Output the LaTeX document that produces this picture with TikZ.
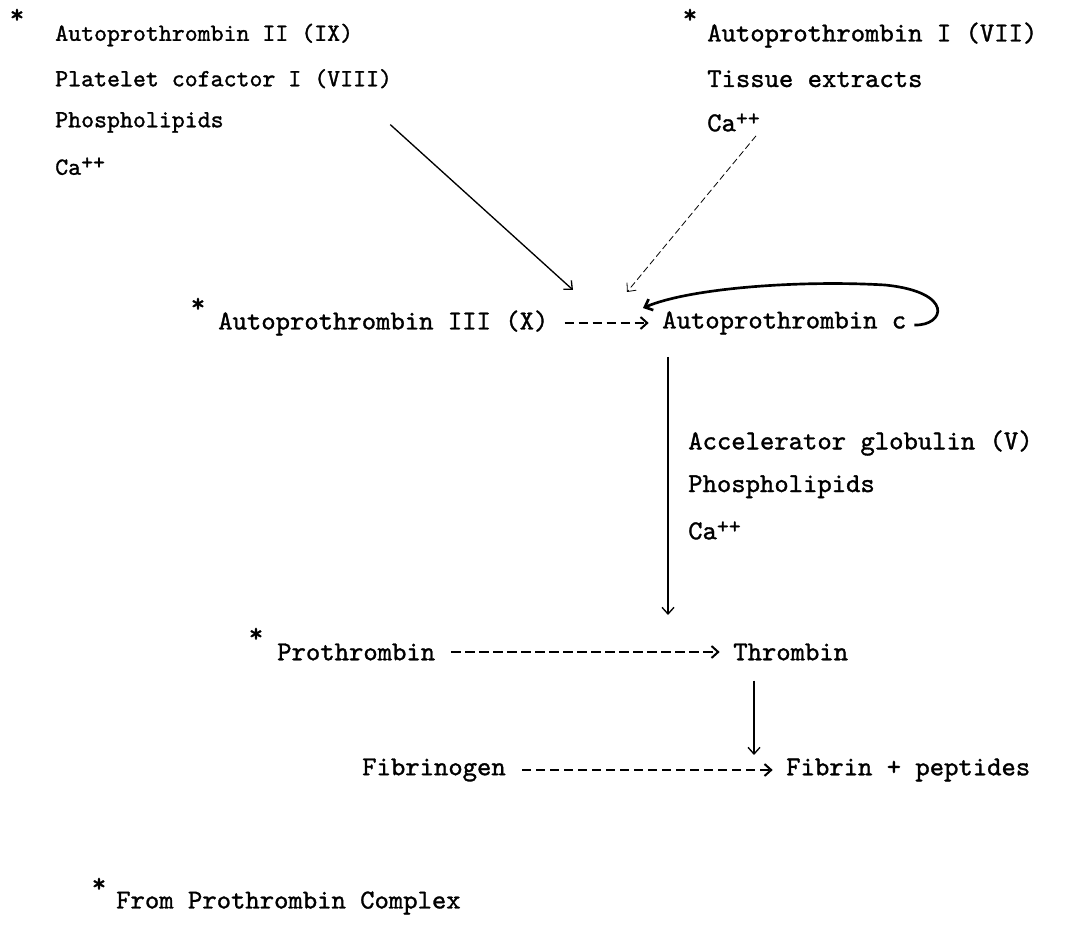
\documentclass[tikz,border=0pt]{standalone}
\usepackage{fontspec}
\newfontfamily\typer{lmmono10-regular.otf}[FakeBold=1.2]
\newcommand{\plusplus}{\raisebox{0.5ex}{\fontsize{17}{17}\selectfont++}}
\usetikzlibrary{positioning,arrows.meta}

\begin{document}
\begin{tikzpicture}[
        x=0.75pt, y=-0.75pt,              % 像素坐标, y 向下
        node distance=32.8pt,             % 行距
        every node/.style={
            font=\typer\fontsize{20.5}{24}\selectfont,
            inner sep=0pt,
            anchor=west
        },
        small/.style={font=\typer\fontsize{18.5}{22}\selectfont},
        >={Straight Barb[length=5pt,width=9pt]},
        star/.style={anchor=center},
        arrow/.style={->, line width=1pt},
        thinarrow/.style={->, line width=0.6pt, dash pattern=on 5pt off 2.5pt},
        dasharrow/.style={->, line width=1.5pt, dash pattern=on 7pt off 3.5pt,
            shorten <=12pt, shorten >=10pt},
        looparrow/.style={->, line width=2pt}
    ]
    \useasboundingbox (0,0) rectangle (1065,937);

    % 左上
    \node[star] (s1) at (17,16) {*};
    \node[small] (ap2) at (55,35) {Autoprothrombin II (IX)};
    \node[small] (pc1) [below=of ap2.west, anchor=west] {Platelet cofactor I (VIII)};
    \node[small] (pl1) [below=of pc1.west, anchor=west] {Phospholipids};
    \node[small] (ca1) [below=of pl1.west, anchor=west] {Ca\plusplus};

    % 右上
    \node[star] (s2) at (690,16) {*};
    \node (ap1) at (707,35) {Autoprothrombin I (VII)};
    \node (te) [below=of ap1.west, anchor=west] {Tissue extracts};
    \node (ca2) [below=of te.west, anchor=west] {Ca\plusplus};

    % 中间
    \node[star] (s3) at (198,305) {*};
    \node (ap3) at (218,323) {Autoprothrombin III (X)};
    \node (apc) at (662,323) {Autoprothrombin c};

    \node (acc) at (688,443) {Accelerator globulin (V)};
    \node (pl2) [below=of acc.west, anchor=west] {Phospholipids};
    \node (ca3) [below=of pl2.west, anchor=west] {Ca\plusplus};

    \node[star] (s4) at (256,635) {*};
    \node (pro) at (277,652) {Prothrombin};
    \node (thr) at (733,652) {Thrombin};

    \node (fbg) at (362,770) {Fibrinogen};
    \node (fib) at (786,770) {Fibrin + peptides};

    % 脚注
    \node[star] (s5) at (99,885) {*};
    \node (note) at (116,903) {From Prothrombin Complex};

    % 箭头终点
    \coordinate (in1) at (573,290);
    \coordinate (in2) at (627,292);
    \coordinate (lp) at (643,308);
    \coordinate (cat1) at (668,615);
    \coordinate (cat2) at (754,755);

    % 边
    \draw[arrow] ([shift={(-2,36)}]pc1.south east) -- (in1);
    \draw[thinarrow] ([shift={(-4,4)}]ca2.south east) -- (in2);
    \draw[dasharrow] (ap3) -- (apc);
    \draw[looparrow] ([shift={(8,2)}]apc.east) .. controls (945,326) and (955,292) .. (885,285)
        .. controls (800,280) and (690,288) .. (lp);
    \draw[arrow] ([shift={(6,22)}]apc.south west) -- (cat1);
    \draw[dasharrow] (pro) -- (thr);
    \draw[arrow] ([shift={(21,20)}]thr.south west) -- (cat2);
    \draw[dasharrow] (fbg) -- (fib);
\end{tikzpicture}
\end{document}
